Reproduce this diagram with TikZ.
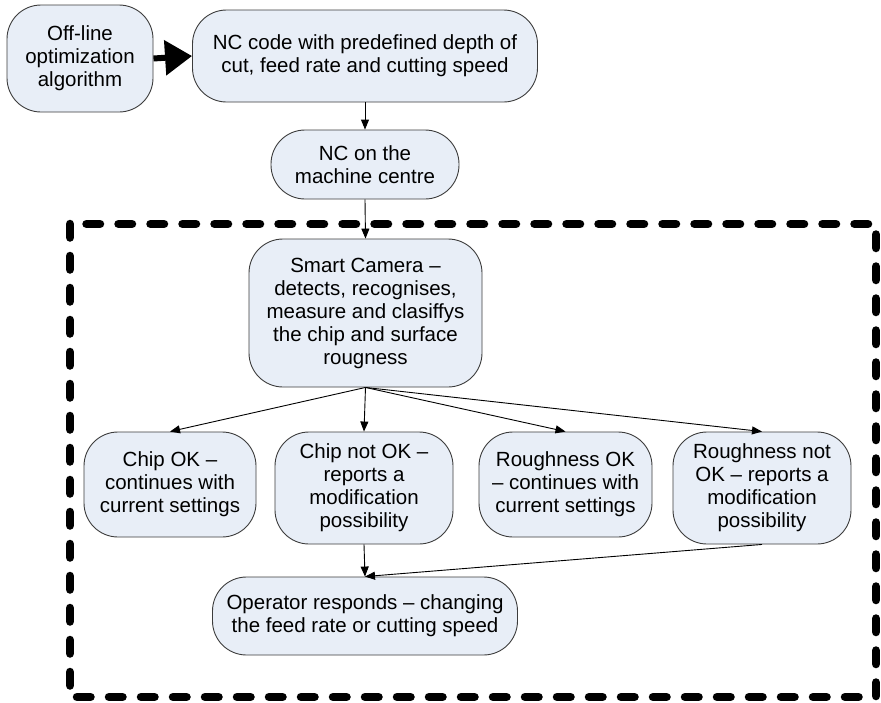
\documentclass[tikz,border=0pt]{standalone}
\usepackage{fontspec}
\setmainfont{Liberation Sans}
\usetikzlibrary{arrows.meta}
\definecolor{boxfill}{RGB}{232,238,247}
\definecolor{boxline}{RGB}{60,60,60}
\begin{document}
\begin{tikzpicture}[x=1pt,y=-1pt,
  flowbox/.style={draw=boxline, line width=0.9pt, fill=boxfill, rounded corners=34pt,
    align=center, inner sep=0pt, font=\fontsize{20.5}{23}\selectfont},
  link/.style={draw=black, line width=0.9pt, -{Triangle[length=10pt,width=8pt]}},
  biglink/.style={draw=black, line width=6pt, -{Triangle[length=27pt,width=34pt]}},
  frame/.style={draw=black, line width=8.5pt, line cap=round, line join=round,
    dash pattern=on 13.5pt off 18.5pt}]
\useasboundingbox (0,0) rectangle (881,702);

% monitored loop around the camera stage
\draw[frame] (70,224) rectangle (876,697);

% boxes
\node[flowbox, minimum width=146pt, minimum height=107pt] (off) at (80,58.5)
  {Off-line\\optimization\\algorithm};
\node[flowbox, minimum width=345pt, minimum height=92pt] (nc) at (365,56)
  {NC code with predefined depth of\\cut, feed rate and cutting speed};
\node[flowbox, minimum width=188pt, minimum height=69pt] (ncm) at (365,164.5)
  {NC on the\\machine centre};
\node[flowbox, minimum width=233pt, minimum height=148pt] (cam) at (365.5,313)
  {Smart Camera –\\detects, recognises,\\measure and clasiffys\\the chip and surface\\rougness};
\node[flowbox, minimum width=172pt, minimum height=105pt] (chipok) at (170,484.5)
  {Chip OK –\\continues with\\current settings};
\node[flowbox, minimum width=178pt, minimum height=112pt] (chipnok) at (364,488)
  {Chip not OK –\\reports a\\modification\\possibility};
\node[flowbox, minimum width=173pt, minimum height=105pt] (roughok) at (565.5,484.5)
  {Roughness OK\\– continues with\\current settings};
\node[flowbox, minimum width=178pt, minimum height=112pt] (roughnok) at (762,488)
  {Roughness not\\OK – reports a\\modification\\possibility};
\node[flowbox, minimum width=305pt, minimum height=78pt] (oper) at (365,616)
  {Operator responds – changing\\the feed rate or cutting speed};

% connectors
\draw[biglink] (off.east) -- (nc.west);
\draw[link] (nc.south) -- (ncm.north);
\draw[link] (ncm.south) -- (cam.north);
\draw[link] (cam.south) -- (chipok.north);
\draw[link] (cam.south) -- (chipnok.north);
\draw[link] (cam.south) -- (roughok.north);
\draw[link] (cam.south) -- (roughnok.north);
\draw[link] (chipnok.south) -- (oper.north);
\draw[link] (roughnok.south) -- (oper.north);
\end{tikzpicture}
\end{document}
